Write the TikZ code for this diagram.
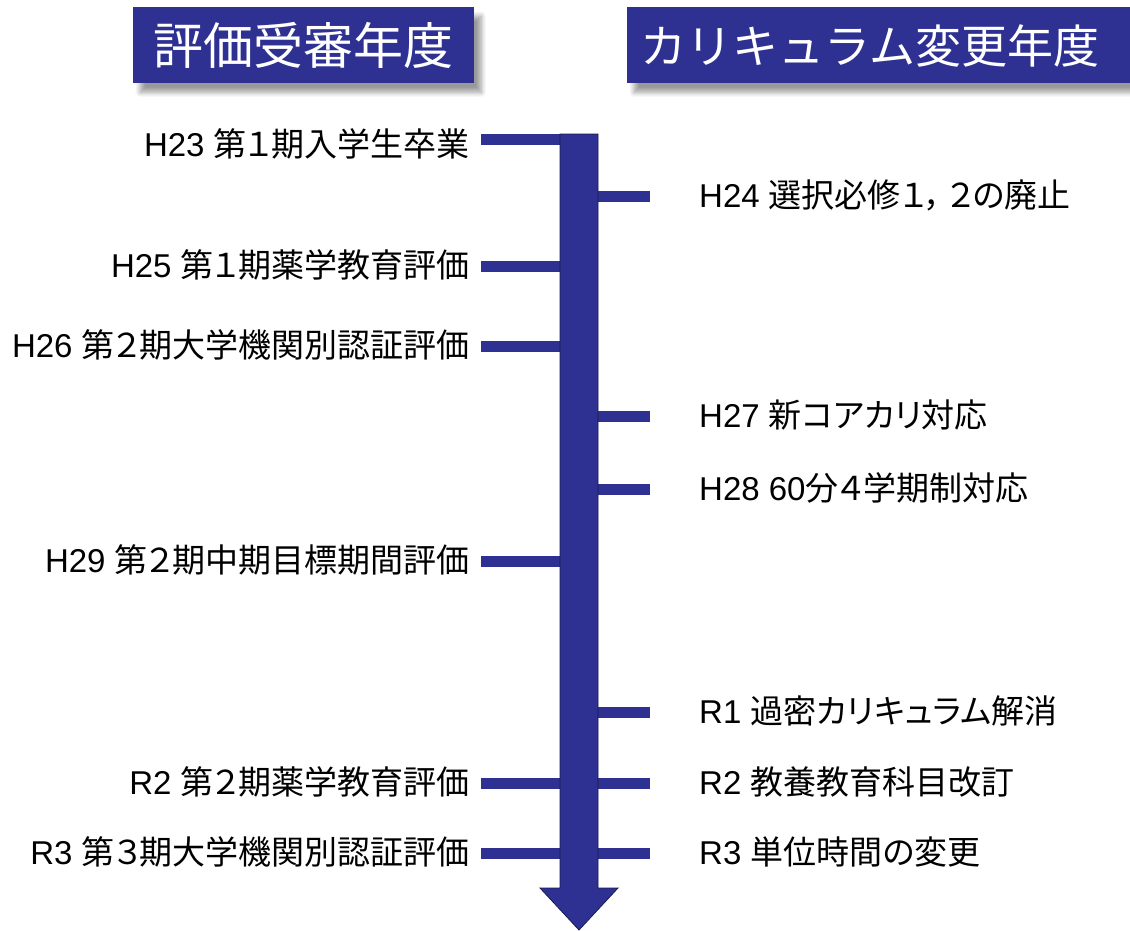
\documentclass[tikz,border=0pt]{standalone}
\usepackage{fontspec}
\setmainfont{Liberation Sans}
\newfontfamily\jp{Noto Sans CJK JP}
\newfontfamily\jpp[RawFeature=+palt]{Noto Sans CJK JP}
\usetikzlibrary{shadows.blur}
\definecolor{barblue}{RGB}{46,49,146}
\tikzset{
  headbox/.style={fill=barblue, inner sep=0pt, anchor=north west,
    blur shadow={shadow xshift=7pt, shadow yshift=-9pt, shadow blur radius=5pt, shadow blur steps=8}},
  headtext/.style={text=white, inner sep=0pt},
  branch/.style={draw=barblue, line width=11pt},
  evt/.style={inner sep=0pt, text height=23pt, text depth=0pt,
    font=\fontsize{33pt}{33pt}\selectfont},
  evtL/.style={evt, anchor=east},
  evtR/.style={evt, anchor=west}
}

\begin{document}
\begin{tikzpicture}[x=1pt,y=-1pt]
\useasboundingbox (0,0) rectangle (1130,930);
% headings
\node[headbox, minimum width=341pt, minimum height=76pt, headtext,
  font=\jp\fontsize{50pt}{50pt}\selectfont] (hyoka) at (133,7) {評価受審年度};
\node[headbox, minimum width=510pt, minimum height=76pt] (curbox) at (627,7) {};
\node[headtext, font=\jp\fontsize{46pt}{46pt}\selectfont] (curtitle) at (870,46) {カリキュラム変更年度};
% left: 評価受審
\node[evtL] (h23) at (470,145) {H23 {\jpp 第１期入学生卒業}};
\node[evtL] (h25) at (470,266) {H25 {\jpp 第１期薬学教育評価}};
\node[evtL] (h26) at (470,346) {H26 {\jpp 第２期大学機関別認証評価}};
\node[evtL] (h29) at (470,561) {H29 {\jpp 第２期中期目標期間評価}};
\node[evtL] (r2l) at (470,783) {R2 {\jpp 第２期薬学教育評価}};
\node[evtL] (r3l) at (470,853) {R3 {\jpp 第３期大学機関別認証評価}};
% right: カリキュラム変更
\node[evtR] (h24) at (699,196) {H24 {\jpp 選択必修１，\,２の廃止}};
\node[evtR] (h27) at (699,416) {H27 {\jpp 新コアカリ対応}};
\node[evtR] (h28) at (699,489) {H28 60{\jpp 分４学期制対応}};
\node[evtR] (r1r) at (699,712) {R1 {\jpp 過密カリキュラム解消}};
\node[evtR] (r2r) at (699,783) {R2 {\jpp 教養教育科目改訂}};
\node[evtR] (r3r) at (699,853) {R3 {\jpp 単位時間の変更}};
% time axis
\coordinate (shaftL) at (560,134);
\coordinate (shaftR) at (598,134);
\draw[branch] ([xshift=11pt,yshift=5.5pt]h23.east) -- ([yshift=5.5pt]h23.east -| shaftL);
\draw[branch] ([xshift=11pt]h25.east) -- (h25.east -| shaftL);
\draw[branch] ([xshift=11pt]h26.east) -- (h26.east -| shaftL);
\draw[branch] ([xshift=11pt]h29.east) -- (h29.east -| shaftL);
\draw[branch] ([xshift=11pt]r2l.east) -- (r2l.east -| shaftL);
\draw[branch] ([xshift=11pt]r3l.east) -- (r3l.east -| shaftL);
\draw[branch] (h24.west -| shaftR) -- ([xshift=-49pt]h24.west);
\draw[branch] (h27.west -| shaftR) -- ([xshift=-49pt]h27.west);
\draw[branch] (h28.west -| shaftR) -- ([xshift=-49pt]h28.west);
\draw[branch] (r1r.west -| shaftR) -- ([xshift=-49pt]r1r.west);
\draw[branch] (r2r.west -| shaftR) -- ([xshift=-49pt]r2r.west);
\draw[branch] (r3r.west -| shaftR) -- ([xshift=-49pt]r3r.west);
\draw[fill=barblue, draw=barblue!55!black, line width=0.8pt]
  (shaftL) -- (shaftR) -- (598,888) -- (618,888) -- (579,930) -- (540,888) -- (560,888) -- cycle;
\end{tikzpicture}
\end{document}
